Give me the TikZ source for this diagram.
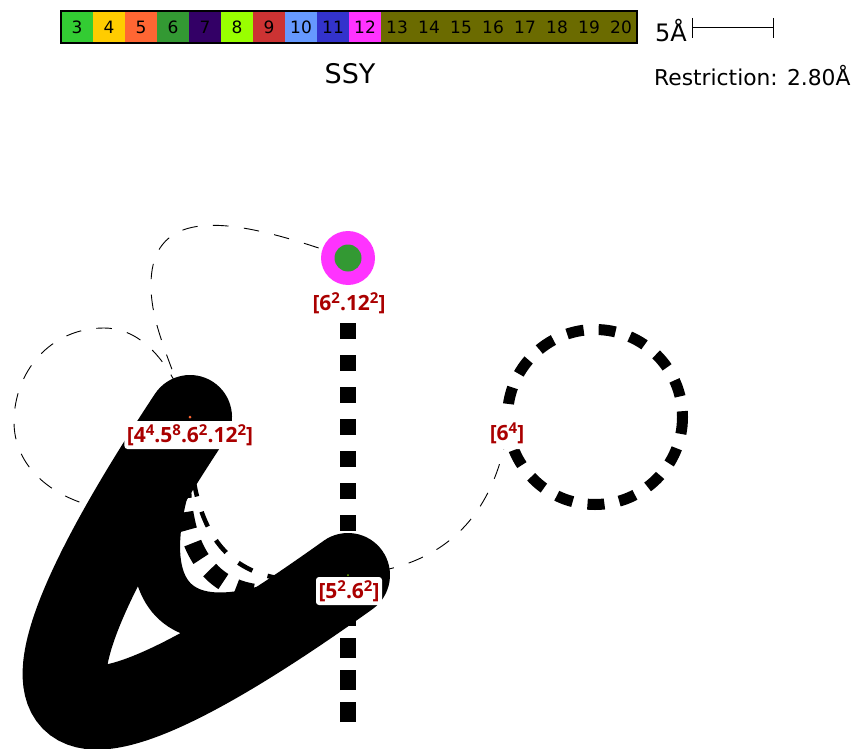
\documentclass[tikz,border=0pt]{standalone}
\usepackage{fontspec}
\setmainfont{DejaVu Sans}
\newfontfamily\labelfont{Open Sans}
\usetikzlibrary{positioning,calc}

\definecolor{cThree}{HTML}{33CC33}
\definecolor{cFour}{HTML}{FFCC00}
\definecolor{cFive}{HTML}{FF6633}
\definecolor{cSix}{HTML}{339933}
\definecolor{cSeven}{HTML}{330066}
\definecolor{cEight}{HTML}{99FF00}
\definecolor{cNine}{HTML}{CC3333}
\definecolor{cTen}{HTML}{6699FF}
\definecolor{cEleven}{HTML}{3333CC}
\definecolor{cTwelve}{HTML}{FF33FF}
\definecolor{cMany}{HTML}{6B6B00}
\definecolor{lbl}{HTML}{AA0000}

\newcommand{\upnum}[1]{\raisebox{.62ex}{\fontsize{15}{15}\selectfont #1}}

\begin{document}
\begin{tikzpicture}[x=1pt,y=-1pt,
        cell/.style={rectangle, minimum width=32pt, minimum height=32pt, inner sep=0pt, font=\fontsize{17}{17}\selectfont},
        vtx/.style={circle, minimum size=3pt, inner sep=0pt},
        lab/.style={rectangle, fill=white, rounded corners=3pt, inner sep=2.5pt, minimum height=28pt, text=lbl, font=\labelfont\bfseries\fontsize{21}{21}\selectfont},
        heading/.style={inner sep=0pt, font=\fontsize{27}{27}\selectfont},
        thinedge/.style={line width=0.9pt, dash pattern=on 15.5pt off 15.5pt},
        ring/.style={line width=11pt, dash pattern=on 17pt off 15pt}
    ]
    \useasboundingbox (0,0) rectangle (856,749);

    %% ---- colour key ----
    \foreach \num/\col [count=\i from 0] in {3/cThree,4/cFour,5/cFive,6/cSix,7/cSeven,8/cEight,9/cNine,10/cTen,11/cEleven,12/cTwelve,
        13/cMany,14/cMany,15/cMany,16/cMany,17/cMany,18/cMany,19/cMany,20/cMany}
        \node[cell, fill=\col] (k\num) at (77+32*\i,27) {\num};
    \draw[line width=1.6pt] (k3.north west) rectangle (k20.south east);
    \node[heading] (title) at (350,74) {SSY};
    \node[inner sep=0pt, font=\fontsize{24}{24}\selectfont] (five) at (671,31) {5Å};
    \coordinate (barl) at (692,28);
    \coordinate (barr) at (773,28);
    \draw[line width=1pt] (barl) -- (barr);
    \draw[line width=1pt] ($(barl)+(0,-10)$) -- ($(barl)+(0,10)$);
    \draw[line width=1pt] ($(barr)+(0,-10)$) -- ($(barr)+(0,10)$);
    \node[inner sep=0pt, anchor=west, font=\fontsize{21.8}{22}\selectfont] (restr) at (654,76) {Restriction: 2.80Å};

    %% ---- vertices ----
    \coordinate (va) at (190,417);
    \coordinate (vb) at (348,575);
    \coordinate (vc) at (348,258);
    \coordinate (vd) at (507,433);
    \coordinate (vend) at (348,722);

    %% ---- thin edges ----
    \draw[thinedge] (vc) .. controls (262,228) and (151,192) .. (151,285) .. controls (151,320) and (165,350) .. (va);
    \draw[thinedge] (va) .. controls (165,345) and (130,328) .. (104,328) .. controls (50,328) and (14,372) .. (14,422) .. controls (14,465) and (50,500) .. (110,510);
    \draw[thinedge] (vb) .. controls (430,570) and (490,530) .. (vd);

    %% ---- ring on the right ----
    \draw[ring] (595,417) circle (87.5);

    %% ---- sticks ----
    \draw[line width=16pt, dash pattern=on 16pt off 16pt, dash phase=-1pt] (vc) -- (vb);
    \draw[line width=16pt, dash pattern=on 20pt off 12pt] (vend) -- (vb);

    %% ---- fat curves ----
    \draw[line width=4.5pt, dash pattern=on 16pt off 16pt] (va) .. controls (187,530) and (225,600) .. (vb);
    \draw[line width=18pt, dash pattern=on 18pt off 14pt] (va) .. controls (165,525) and (195,640) .. (vb);
    \draw[line width=48pt, line cap=round] (va) .. controls (112,600) and (170,668) .. (vb);
    \draw[line width=84pt, line cap=round] (va) .. controls (-21,736) and (36,798) .. (vb);

    %% ---- dots and labels ----
    \node[vtx, fill=cFive] (dota) at (va) {};
    \node[vtx, fill=cEight!70!black, minimum size=2pt] (dotb) at (vb) {};
    \node[circle, fill=cTwelve, minimum size=54pt, inner sep=0pt] (outerc) at (vc) {};
    \node[circle, fill=cSix, minimum size=27pt, inner sep=0pt] (innerc) at (vc) {};
    \node[lab] (la) at (190,435) {[4\upnum{4}.5\upnum{8}.6\upnum{2}.12\upnum{2}]};
    \node[lab] (lb) at (349,591) {[5\upnum{2}.6\upnum{2}]};
    \node[lab] (lc) at (349,303) {[6\upnum{2}.12\upnum{2}]};
    \node[lab, minimum height=32pt] (ld) at (507,433) {[6\upnum{4}]};
\end{tikzpicture}
\end{document}
